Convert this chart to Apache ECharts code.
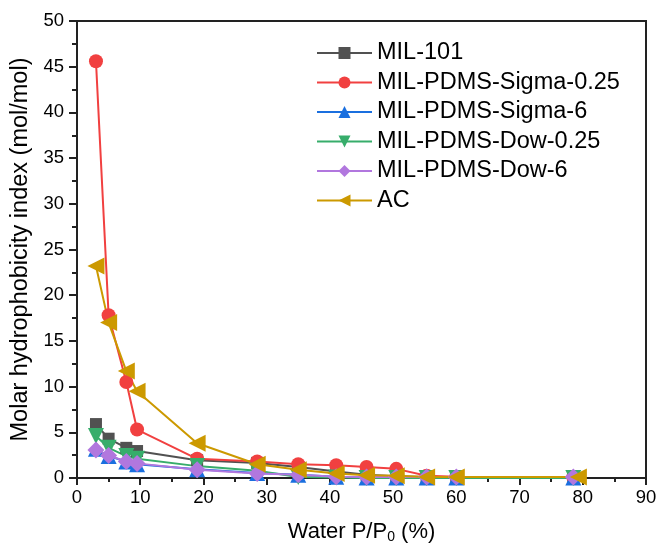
<html>
<head>
  <meta charset="utf-8">
  <style>
    html, body { margin: 0; padding: 0; background: #fff; }
    #container { width: 657px; height: 551px; }
  </style>
</head>
<body>
<div id="container"></div>
<script type="text/javascript" src="https://cdn.jsdelivr.net/npm/echarts@6/dist/echarts.min.js"></script>
<script type="text/javascript">
  // water P/P0 (%) points
  const pressure   = [3, 5, 7.8, 9.5, 19, 28.5, 35, 41, 45.8, 50.5, 55.3, 60, 78.5];
  const pressureAC = [3, 5, 7.8, 9.5, 19, 28.5, 35, 41, 45.8, 50.5, 55.3, 60, 79.3];

  const mil101     = [5.9, 4.3, 3.3, 2.95, 1.95, 1.65, 1.2, 0.7, 0.35, 0.2, 0.1, 0.1, 0.1];
  const sigma025   = [45.6, 17.8, 10.5, 5.3, 2.1, 1.8, 1.5, 1.4, 1.2, 1.0, 0.25, 0.15, 0.1];
  const sigma6     = [3.2, 2.4, 1.8, 1.5, 0.95, 0.55, 0.35, 0.15, 0.05, 0.05, 0.05, 0.05, 0.05];
  const dow025     = [4.6, 3.3, 2.4, 2.1, 1.3, 0.8, 0.1, 0.05, 0, 0, 0, 0, 0];
  const dow6       = [3.05, 2.45, 1.8, 1.6, 0.9, 0.5, 0.35, 0.15, 0.1, 0.1, 0.1, 0.1, 0.1];
  const ac         = [23.2, 17.0, 11.7, 9.5, 3.8, 1.5, 0.9, 0.5, 0.3, 0.25, 0.1, 0.1, 0.1];

  const names = ['MIL-101', 'MIL-PDMS-Sigma-0.25', 'MIL-PDMS-Sigma-6', 'MIL-PDMS-Dow-0.25', 'MIL-PDMS-Dow-6', 'AC'];

  const font = '"Liberation Sans", Arial, sans-serif';
  const axisColor = '#222';

  function pairs(xs, ys) {
    return ys.map((y, i) => [xs[i], y]);
  }

  function line(name, xs, ys, color, symbol, size, rotate) {
    return {
      name: name,
      type: 'line',
      data: pairs(xs, ys),
      symbol: symbol,
      symbolSize: size,
      symbolRotate: rotate || 0,
      itemStyle: { color: color },
      lineStyle: { color: color, width: 2 },
      emphasis: { disabled: true },
      animation: false
    };
  }

  var myChart = echarts.init(document.getElementById('container'), null, { renderer: 'canvas' });

  var option = {
    backgroundColor: '#fff',
    textStyle: { fontFamily: font },
    grid: {
      left: 77, right: 11, top: 21, bottom: 73,
      show: true, borderColor: axisColor, borderWidth: 2,
      outerBoundsMode: 'none'
    },
    legend: {
      orient: 'vertical',
      left: 311,
      top: 36,
      itemWidth: 55,
      itemHeight: 15,
      itemGap: 5.5,
      data: names,
      textStyle: { fontFamily: font, fontSize: 23.5, color: '#000', lineHeight: 23 }
    },
    xAxis: {
      type: 'value',
      min: 0, max: 90, interval: 10,
      name: 'Water P/P{sub|0} (%)',
      nameLocation: 'middle',
      nameGap: 42,
      nameTextStyle: {
        fontFamily: font, fontSize: 22, color: '#000',
        rich: { sub: { fontFamily: font, fontSize: 14, color: '#000', verticalAlign: 'bottom', padding: [10, 0, 0, 0] } }
      },
      axisLine: { lineStyle: { color: axisColor, width: 2 } },
      axisTick: { inside: false, length: 7, lineStyle: { color: axisColor, width: 2 } },
      minorTick: { show: true, splitNumber: 2, length: 4, lineStyle: { color: axisColor, width: 2 } },
      axisLabel: { fontFamily: font, fontSize: 18.5, color: '#000', margin: 10 },
      splitLine: { show: false }
    },
    yAxis: {
      type: 'value',
      min: 0, max: 50, interval: 5,
      name: 'Molar hydrophobicity index (mol/mol)',
      nameLocation: 'middle',
      nameRotate: 90,
      nameGap: 42,
      nameTextStyle: { fontFamily: font, fontSize: 23.5, color: '#000' },
      axisLine: { lineStyle: { color: axisColor, width: 2 } },
      axisTick: { inside: false, length: 8, lineStyle: { color: axisColor, width: 2 } },
      minorTick: { show: true, splitNumber: 2, length: 5, lineStyle: { color: axisColor, width: 2 } },
      axisLabel: { fontFamily: font, fontSize: 18.5, color: '#000', margin: 13 },
      splitLine: { show: false }
    },
    series: [
      line(names[0], pressure, mil101, '#515151', 'rect', 12),
      line(names[1], pressure, sigma025, '#F14040', 'circle', 14),
      line(names[2], pressure, sigma6, '#1A6FDF', 'triangle', 16),
      line(names[3], pressure, dow025, '#37AD6B', 'triangle', 16, 180),
      line(names[4], pressure, dow6, '#B177DE', 'diamond', 17),
      line(names[5], pressureAC, ac, '#CC9900', 'triangle', 17, 90)
    ]
  };

  myChart.setOption(option);
</script>
</body>
</html>
